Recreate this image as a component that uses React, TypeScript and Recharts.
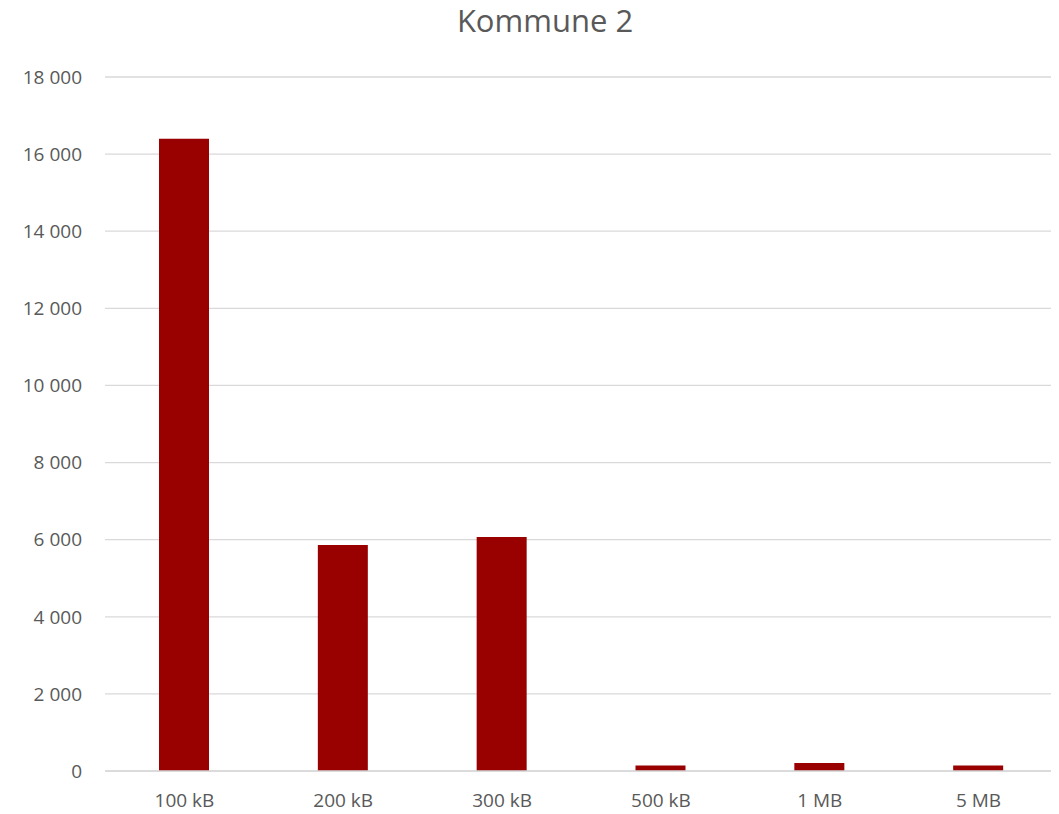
import React from "react";
import { BarChart, Bar, XAxis, YAxis, CartesianGrid } from "recharts";

const categories = ["100 kB", "200 kB", "300 kB", "500 kB", "1 MB", "5 MB"];
const counts = [16400, 5860, 6070, 140, 210, 140];
const yTicks = [0, 2000, 4000, 6000, 8000, 10000, 12000, 14000, 16000, 18000];

const chartData = categories.map((name, i) => ({ name, value: counts[i] }));

const fmt = (v: number) => v.toLocaleString("en-US").replace(/,/g, " ");

const App: React.FC = () => {
  return (
    <div style={{ fontFamily: "'Open Sans', sans-serif", position: "relative", width: 1051 }}>
      <div
        style={{
          position: "absolute",
          top: -3,
          left: 0,
          width: 1074,
          textAlign: "center",
          fontSize: 31,
          lineHeight: "31px",
          color: "#595959",
        }}
      >
        Kommune 2
      </div>
      <BarChart
        width={1051}
        height={806}
        data={chartData}
        margin={{ top: 69, right: 1, left: 0, bottom: 3 }}
      >
        <CartesianGrid vertical={false} stroke="#d9d9d9" strokeWidth={1.3} />
        <XAxis
          dataKey="name"
          height={40}
          tickLine={false}
          axisLine={{ stroke: "#d9d9d9", strokeWidth: 1.3 }}
          tick={{ fill: "#595959", fontSize: 19 }}
          tickSize={0}
          tickMargin={23}
          interval={0}
        />
        <YAxis
          width={97}
          domain={[0, 18000]}
          ticks={yTicks}
          tickFormatter={fmt}
          axisLine={false}
          tickLine={false}
          tickSize={0}
          tickMargin={23}
          tick={{ fill: "#595959", fontSize: 19 }}
        />
        <Bar dataKey="value" fill="#990000" barSize={50} isAnimationActive={false} />
      </BarChart>
    </div>
  );
};

export default App;
